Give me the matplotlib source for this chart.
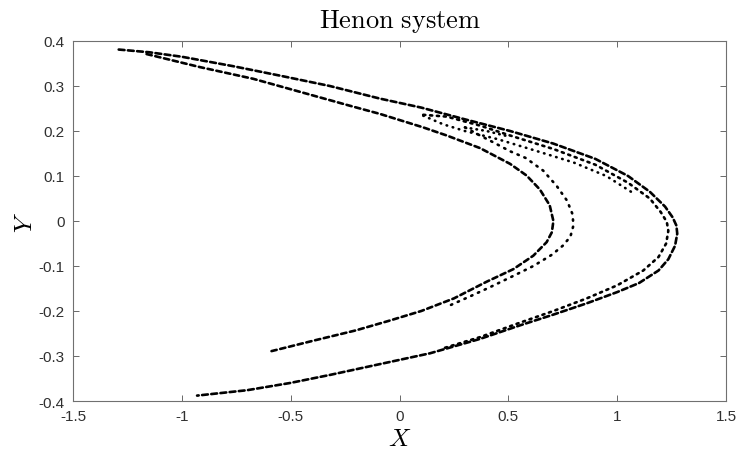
import matplotlib
matplotlib.use('Agg')
import matplotlib.pyplot as plt
import matplotlib.ticker as mticker

# strands of the attractor (x, y)
outer_x = [-1.29, -1.15, -1.0, -0.764, -0.549, -0.32, -0.09, 0.1, 0.3, 0.508, 0.707, 0.9, 1.05,
           1.15, 1.22, 1.255, 1.272, 1.276, 1.266, 1.235, 1.19, 1.1, 1.0, 0.86, 0.707, 0.553, 0.37,
           0.14, -0.09, -0.319, -0.503, -0.7, -0.93]
outer_y = [0.381, 0.375, 0.365, 0.344, 0.323, 0.300, 0.272, 0.252, 0.226, 0.200, 0.172, 0.138, 0.100,
           0.065, 0.032, 0.008, -0.010, -0.028, -0.055, -0.085, -0.110, -0.138, -0.158, -0.183, -0.208,
           -0.232, -0.262, -0.294, -0.318, -0.342, -0.360, -0.376, -0.388]

band_x = [0.109, 0.217, 0.37, 0.508, 0.707, 0.9, 1.05, 1.15, 1.2, 1.228, 1.235, 1.225, 1.19, 1.12,
          1.0, 0.86, 0.707, 0.553, 0.37, 0.2]
band_y = [0.236, 0.232, 0.212, 0.190, 0.160, 0.125, 0.085, 0.050, 0.020, -0.002, -0.022, -0.050,
          -0.080, -0.110, -0.143, -0.172, -0.200, -0.226, -0.258, -0.283]

arm_x = [0.109, 0.2, 0.3, 0.45, 0.6, 0.8, 0.95, 1.08]
arm_y = [0.234, 0.215, 0.200, 0.182, 0.160, 0.130, 0.100, 0.060]

hook_x = [0.301, 0.40, 0.50]
hook_y = [0.208, 0.200, 0.188]

mid_x = [0.301, 0.37, 0.446, 0.508, 0.58, 0.66, 0.722, 0.77, 0.795, 0.799, 0.785, 0.75, 0.70,
         0.615, 0.523, 0.416, 0.322, 0.22]
mid_y = [0.208, 0.190, 0.171, 0.155, 0.140, 0.112, 0.078, 0.045, 0.015, -0.010, -0.035, -0.055,
         -0.075, -0.100, -0.122, -0.147, -0.168, -0.190]

inner_x = [-1.162, -0.917, -0.672, -0.457, -0.227, -0.09, 0.109, 0.217, 0.37, 0.508, 0.584, 0.645,
           0.69, 0.707, 0.70, 0.676, 0.615, 0.523, 0.40, 0.25, 0.1, -0.05, -0.2, -0.396, -0.595]
inner_y = [0.371, 0.342, 0.316, 0.287, 0.256, 0.238, 0.208, 0.190, 0.162, 0.127, 0.101, 0.070,
           0.035, 0.0, -0.025, -0.047, -0.077, -0.107, -0.135, -0.172, -0.200, -0.222, -0.243,
           -0.266, -0.290]

strands = [(outer_x, outer_y, (0, (2.2, 1.3))),
           (band_x, band_y, (0, (0.8, 1.8))),
           (arm_x, arm_y, (0, (0.2, 2.2))),
           (hook_x, hook_y, (0, (0.2, 2.0))),
           (mid_x, mid_y, (0, (0.5, 2.3))),
           (inner_x, inner_y, (0, (2.0, 1.4)))]

plt.rcParams['mathtext.fontset'] = 'cm'
plt.rcParams['axes.unicode_minus'] = False
plt.rcParams['font.family'] = ['Liberation Sans', 'DejaVu Sans']

fig = plt.figure(figsize=(7.38, 4.56), dpi=100)
ax = fig.add_axes([73 / 738, 54 / 456, 653 / 738, 360 / 456])

for sx, sy, dash in strands:
    ax.plot(sx, sy, color='black', lw=1.9, linestyle=dash, dash_capstyle='round')

ax.set_xlim(-1.5, 1.5)
ax.set_ylim(-0.4, 0.4)
ax.xaxis.set_major_locator(mticker.MultipleLocator(0.5))
ax.yaxis.set_major_locator(mticker.MultipleLocator(0.1))
ax.xaxis.set_major_formatter(mticker.FormatStrFormatter('%g'))
ax.yaxis.set_major_formatter(mticker.FuncFormatter(lambda v, p: '%g' % round(v, 2)))
ax.tick_params(direction='in', length=4, width=0.6, top=True, right=True,
               labelsize=11, colors='#505050', labelcolor='#303030')
ax.tick_params(axis='x', pad=6)
ax.tick_params(axis='y', pad=6)
for sp in ax.spines.values():
    sp.set_color('#707070')
    sp.set_linewidth(0.8)

ax.set_title(r'$\mathrm{Henon\ system}$', fontsize=19, pad=10)
ax.set_xlabel(r'$X$', fontsize=18, labelpad=2)
ax.set_ylabel(r'$Y$', fontsize=18, labelpad=1)

fig.savefig('out.png', dpi=100)
